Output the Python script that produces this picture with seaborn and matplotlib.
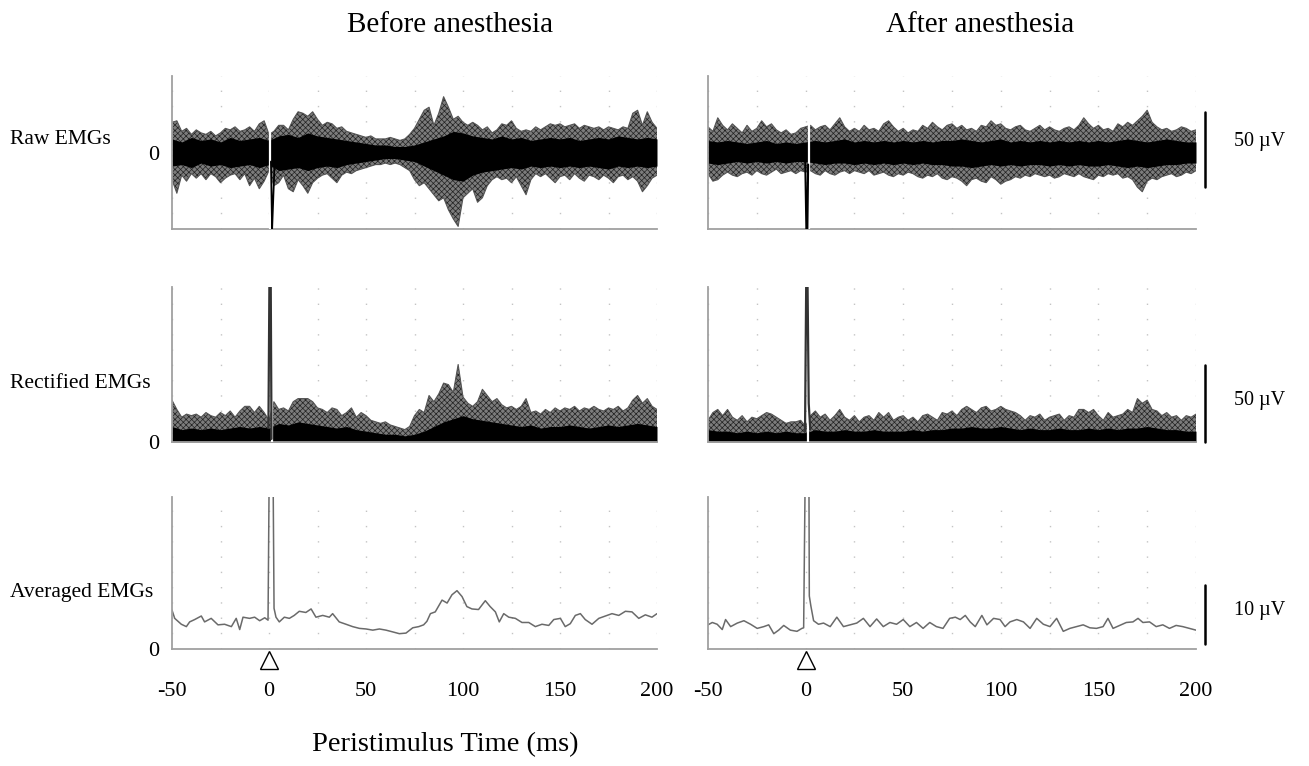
import numpy as np
import matplotlib
matplotlib.use("Agg")
import matplotlib.pyplot as plt
import matplotlib.transforms as mtransforms
from matplotlib.ticker import MultipleLocator, FixedLocator, FixedFormatter
import seaborn as sns

sns.set_theme(style="white")
plt.rcParams['font.family'] = ['Liberation Serif', 'DejaVu Serif']
plt.rcParams['axes.unicode_minus'] = False
plt.rcParams['text.color'] = 'black'
plt.rcParams['hatch.linewidth'] = 0.5

# ---------------- data ----------------
t_env = np.arange(-50, 200.1, 2.5)     # envelope sampling times (ms)
t_core = np.arange(-50, 200.1, 5)      # dense-core sampling times (ms)

# Raw EMGs, before anesthesia (uV): outer envelope and dense core
raw_before_hi = [20, 21, 14, 16, 12, 15, 13, 12, 14, 11,
                 13, 16, 15, 17, 14, 15, 17, 14, 19, 21,
                 12, 14, 18, 18, 15, 22, 27, 26, 24, 27,
                 22, 18, 20, 19, 16, 17, 14, 13, 12, 11,
                 10, 11, 9, 9, 9, 10, 9, 8, 9, 12,
                 16, 22, 28, 30, 18, 26, 37, 30, 22, 24,
                 20, 18, 20, 18, 15, 17, 13, 15, 19, 18,
                 21, 16, 14, 15, 14, 17, 15, 17, 19, 18,
                 19, 17, 18, 19, 16, 18, 17, 16, 17, 15,
                 17, 16, 15, 17, 16, 26, 28, 18, 27, 20,
                 16]
raw_before_lo = [-18, -27, -15, -19, -14, -17, -14, -18, -14, -16,
                 -20, -17, -15, -14, -18, -14, -22, -17, -24, -19,
                 -12, -22, -20, -15, -24, -26, -18, -22, -27, -20,
                 -17, -15, -14, -17, -20, -15, -13, -14, -12, -11,
                 -10, -9, -8, -8, -7, -8, -7, -8, -10, -12,
                 -18, -22, -20, -24, -28, -32, -30, -38, -44, -49,
                 -30, -27, -24, -33, -30, -22, -18, -16, -18, -17,
                 -20, -16, -22, -28, -18, -14, -16, -14, -17, -20,
                 -16, -15, -18, -14, -17, -19, -15, -16, -18, -15,
                 -17, -20, -16, -15, -18, -16, -19, -26, -22, -17,
                 -15]
raw_before_core_hi = [9, 7, 10, 8, 9, 7, 10, 8, 9, 10,
                      8, 11, 12, 10, 13, 11, 10, 9, 8, 7,
                      6, 5, 5, 4, 4, 5, 7, 9, 11, 14,
                      13, 11, 10, 9, 11, 9, 10, 8, 9, 10,
                      9, 10, 8, 9, 10, 9, 11, 10, 9, 10, 9]
raw_before_core_lo = [-9, -8, -10, -7, -9, -8, -10, -9, -8, -10,
                      -8, -12, -11, -10, -12, -10, -9, -10, -8, -7,
                      -6, -5, -4, -4, -5, -6, -9, -12, -15, -18,
                      -19, -15, -13, -12, -11, -10, -11, -9, -10, -9,
                      -10, -9, -10, -9, -10, -11, -9, -10, -9, -10, -9]

# Raw EMGs, after anesthesia (uV)
raw_after_hi = [17, 14, 23, 18, 15, 19, 16, 13, 18, 14,
                16, 21, 17, 19, 15, 13, 15, 12, 13, 16,
                17, 18, 15, 17, 18, 15, 19, 23, 17, 14,
                16, 14, 18, 15, 16, 14, 19, 21, 17, 14,
                16, 13, 15, 14, 18, 16, 20, 17, 15, 18,
                19, 16, 18, 15, 16, 14, 18, 17, 21, 18,
                19, 16, 15, 17, 18, 15, 14, 16, 18, 15,
                17, 15, 14, 16, 17, 15, 18, 23, 19, 16,
                18, 15, 16, 14, 19, 17, 20, 18, 21, 24,
                28, 20, 17, 15, 16, 14, 15, 17, 16, 14,
                15]
raw_after_lo = [-14, -19, -18, -15, -13, -15, -16, -14, -13, -15,
                -12, -14, -15, -13, -11, -14, -13, -12, -14, -12,
                -13, -12, -14, -15, -12, -14, -15, -13, -12, -14,
                -12, -13, -14, -12, -15, -14, -13, -15, -16, -14,
                -15, -13, -14, -16, -17, -15, -16, -14, -17, -18,
                -16, -17, -19, -22, -18, -17, -19, -20, -16, -18,
                -21, -19, -18, -16, -17, -15, -16, -14, -15, -16,
                -15, -17, -16, -14, -15, -16, -14, -16, -17, -18,
                -15, -16, -14, -15, -14, -17, -16, -18, -23, -26,
                -19, -17, -18, -16, -15, -14, -16, -15, -13, -14,
                -12]
raw_after_core_hi = [8, 7, 8, 7, 6, 7, 8, 6, 7, 6,
                     7, 8, 7, 8, 9, 7, 8, 7, 8, 7,
                     8, 7, 8, 7, 8, 8, 9, 8, 7, 8,
                     9, 7, 8, 7, 8, 7, 8, 7, 8, 7,
                     8, 7, 8, 9, 8, 7, 8, 9, 8, 7, 7]
raw_after_core_lo = [-7, -8, -7, -6, -7, -6, -7, -6, -7, -6,
                     -6, -7, -8, -7, -7, -8, -7, -8, -7, -8,
                     -7, -8, -7, -8, -8, -9, -9, -10, -9, -8,
                     -9, -8, -9, -8, -8, -9, -8, -9, -8, -9,
                     -9, -8, -9, -10, -9, -10, -9, -8, -8, -7, -7]

# Rectified EMGs (uV)
rect_before_hi = [27, 21, 16, 18, 17, 18, 16, 19, 17, 16,
                  19, 17, 20, 16, 20, 23, 23, 19, 23, 19,
                  14, 26, 21, 22, 20, 26, 28, 28, 28, 26,
                  22, 21, 19, 22, 21, 17, 19, 22, 16, 19,
                  17, 14, 13, 12, 13, 11, 10, 9, 8, 10,
                  17, 21, 19, 30, 26, 31, 38, 37, 32, 50,
                  29, 25, 23, 26, 34, 30, 26, 28, 24, 22,
                  23, 21, 23, 28, 19, 20, 18, 21, 19, 22,
                  20, 22, 21, 23, 20, 22, 21, 23, 21, 20,
                  22, 21, 23, 20, 22, 27, 30, 25, 28, 23,
                  21]
rect_before_core = [10, 8, 9, 8, 9, 8, 9, 10, 9, 10,
                    9, 12, 11, 13, 12, 11, 10, 9, 10, 8,
                    7, 6, 5, 5, 4, 5, 7, 10, 13, 15,
                    17, 15, 14, 13, 12, 11, 10, 11, 9, 10,
                    10, 11, 10, 9, 10, 11, 10, 11, 12, 11, 10]
rect_after_hi = [14, 19, 21, 17, 21, 16, 14, 17, 13, 16,
                 15, 17, 19, 18, 16, 14, 12, 13, 13, 14,
                 10, 17, 20, 16, 18, 14, 17, 21, 16, 14,
                 17, 13, 16, 17, 14, 19, 16, 19, 14, 16,
                 17, 14, 16, 13, 17, 18, 16, 14, 19, 18,
                 20, 17, 21, 23, 21, 19, 22, 23, 20, 21,
                 23, 21, 20, 19, 17, 14, 17, 16, 18, 14,
                 16, 17, 18, 14, 17, 16, 21, 21, 19, 21,
                 17, 14, 19, 16, 17, 18, 21, 19, 28, 25,
                 27, 21, 20, 17, 19, 16, 17, 14, 17, 16,
                 18]
rect_after_core = [8, 7, 7, 6, 7, 6, 7, 6, 7, 6,
                   6, 8, 7, 7, 8, 7, 7, 8, 7, 7,
                   7, 8, 7, 8, 8, 9, 9, 10, 9, 9,
                   10, 9, 8, 9, 8, 8, 9, 8, 8, 9,
                   8, 9, 8, 9, 9, 10, 9, 8, 8, 7, 7]

# Stimulus artefacts (ms, uV)
raw_before_art_t = [1.0, 1.6, 2.2, 2.8]
raw_before_art_v = [-6, -51, -30, -10]
raw_after_art_t = [-0.2, 0.4, 0.9, 1.3]
raw_after_art_v = [-4, -51, -51, -8]
rect_before_art_t = [-0.3, 0.2, 0.9, 1.3]
rect_before_art_v = [9, 101, 101, 2]
rect_after_art_t = [-0.3, 0.3, 1.0, 1.6, 2.4]
rect_after_art_v = [7, 101, 101, 25, 8]
blank_raw_before, blank_raw_after = 0.6, 1.6
blank_rect_before, blank_rect_after = 1.6, 1.4

# Averaged EMGs (uV)
avg_before_t = [-50.0, -48.6, -45.2, -42.6, -40.9, -38.3, -34.9, -33.2, -29.8, -26.3,
                -22.9, -19.4, -16.9, -15.1, -13.4, -10.0, -7.4, -4.8, -2.2, -0.5,
                0.1, 2.1, 2.6, 3.6, 5.3, 7.9, 10.5, 13.0, 15.6, 19.0,
                21.7, 24.2, 27.7, 31.1, 32.8, 36.2, 39.7, 43.1, 46.6, 50.0,
                53.5, 56.9, 60.3, 63.8, 67.2, 70.6, 74.1, 77.2, 79.7, 81.4,
                83.2, 85.7, 89.2, 91.8, 94.3, 96.9, 99.5, 102.0, 104.6, 108.0,
                111.5, 114.0, 116.7, 118.7, 121.0, 123.6, 127.0, 130.4, 133.9, 137.3,
                140.7, 144.2, 146.8, 150.2, 152.7, 155.3, 157.9, 160.5, 163.0, 166.5,
                170.0, 173.4, 176.8, 180.3, 183.7, 187.1, 190.6, 194.0, 197.4, 200.0]
avg_before_v = [6.6, 5.2, 4.2, 3.8, 4.6, 5.0, 5.6, 4.6, 5.2, 4.1,
                4.2, 3.8, 5.2, 3.3, 5.4, 5.2, 5.4, 4.8, 5.3, 4.9,
                30, 30, 6.9, 5.4, 4.6, 5.4, 5.2, 5.7, 6.4, 6.2,
                6.8, 5.4, 5.7, 5.4, 6.0, 4.6, 4.2, 3.8, 3.5, 3.4,
                3.2, 3.4, 3.2, 2.9, 2.6, 2.7, 3.6, 3.8, 4.1, 4.7,
                6.0, 6.3, 8.3, 7.8, 9.2, 9.9, 8.9, 7.2, 6.8, 6.7,
                8.2, 7.2, 6.3, 4.6, 6.0, 5.4, 5.2, 4.5, 4.5, 3.8,
                4.2, 4.0, 5.0, 5.2, 3.8, 4.3, 5.7, 6.0, 5.0, 4.2,
                5.2, 5.6, 6.0, 5.7, 6.4, 6.3, 5.2, 5.8, 5.4, 6.0]
avg_after_t = [-50.0, -47.8, -45.3, -42.7, -41.0, -38.4, -35.0, -31.6, -28.2, -24.8,
               -21.4, -18.9, -16.3, -13.8, -11.2, -7.8, -4.4, -1.9, -1.0, -0.2,
               1.7, 1.9, 2.7, 4.1, 6.6, 9.2, 12.6, 16.0, 19.4, 22.8,
               26.2, 29.6, 33.0, 36.4, 39.8, 43.2, 46.6, 50.0, 53.4, 56.8,
               60.2, 63.6, 67.0, 70.4, 73.8, 76.7, 79.2, 81.8, 84.3, 86.9,
               90.3, 92.9, 96.3, 99.6, 102.2, 104.7, 108.2, 111.6, 115.0, 118.4,
               121.8, 125.2, 128.6, 132.0, 135.4, 138.8, 142.2, 145.6, 149.0, 152.4,
               154.9, 157.5, 160.9, 164.3, 167.7, 170.3, 172.8, 176.2, 179.6, 183.0,
               186.4, 189.8, 193.2, 196.6, 200.0]
avg_after_v = [4.1, 4.5, 4.2, 3.3, 5.0, 3.8, 4.4, 4.8, 4.2, 3.5,
               3.8, 4.1, 2.6, 3.2, 4.0, 3.2, 3.0, 3.5, 3.6, 30,
               30, 9.0, 7.3, 4.8, 4.2, 4.4, 3.8, 5.4, 3.8, 4.1,
               4.4, 5.2, 3.8, 5.1, 3.8, 4.5, 4.2, 5.0, 3.8, 4.5,
               3.5, 4.5, 3.8, 3.5, 5.2, 5.4, 5.0, 5.7, 4.6, 3.8,
               5.7, 4.1, 5.2, 5.0, 3.8, 4.6, 5.0, 4.6, 3.5, 5.2,
               4.2, 3.8, 5.2, 3.0, 3.5, 3.8, 4.1, 3.6, 3.5, 3.8,
               5.2, 3.5, 4.0, 4.5, 4.6, 5.2, 4.5, 4.6, 3.8, 4.1,
               3.5, 4.0, 3.8, 3.5, 3.2]

xtick_vals = [-50, 0, 50, 100, 150, 200]
xtick_labels = ["-50", "0", "50", "100", "150", "200"]
stim_time = 0
row_labels = ["Raw EMGs", "Rectified EMGs", "Averaged EMGs"]
col_titles = ["Before anesthesia", "After anesthesia"]
scale_bars = [(-23, 27, "50 \u00b5V", 7), (0, 50, "50 \u00b5V", 27), (0.85, 10.85, "10 \u00b5V", 6.6)]

# ---------------- figure ----------------
W, H = 1309, 766
fig = plt.figure(figsize=(W / 100, H / 100), dpi=100)


def add_ax(x0, y0, x1, y1):
    return fig.add_axes([x0 / W, 1 - y1 / H, (x1 - x0) / W, (y1 - y0) / H])


cols = [(172, 657), (708, 1196)]
rows = [(76, 229), (287, 442), (497, 649)]
axes = [[add_ax(c[0], r[0], c[1], r[1]) for c in cols] for r in rows]

SPINE = '#a0a0a0'
ylims = [(-50.7, 50.7), (0, 100), (0, 25.8)]
ysteps = [10, 10, 2.58]

for ri in range(3):
    for ci in range(2):
        ax = axes[ri][ci]
        ax.set_xlim(-50, 200)
        ax.set_ylim(*ylims[ri])
        for s in ['top', 'right']:
            ax.spines[s].set_visible(False)
        for s in ['left', 'bottom']:
            ax.spines[s].set_color(SPINE)
            ax.spines[s].set_linewidth(1.3)
        ax.xaxis.set_major_locator(FixedLocator(xtick_vals))
        ax.xaxis.set_minor_locator(MultipleLocator(25))
        ax.yaxis.set_major_locator(FixedLocator([0]))
        ax.yaxis.set_minor_locator(MultipleLocator(ysteps[ri]))
        ax.tick_params(axis='both', which='both', direction='out', length=3, width=0.8,
                       color=SPINE, labelsize=16, labelcolor='black')
        ax.tick_params(axis='y', pad=6)
        ax.tick_params(axis='x', pad=21)
        if ri == 2:
            ax.set_xticklabels(xtick_labels)
        else:
            ax.set_xticklabels([])
        if ci == 0:
            ax.yaxis.set_major_formatter(FixedFormatter(["0"]))
        else:
            ax.set_yticklabels([])
        ax.grid(True, axis='x', which='both', color='#c4c4c4', lw=1.0, linestyle=(0, (1, 10)))
        ax.set_axisbelow(True)
        ax.set_facecolor('white')

FRINGE = '#7c7c7c'
HATCH = '#222222'
EDGE = '#555555'


def bundle(ax, lo, hi, core_lo, core_hi, two_sided=True):
    ax.fill_between(t_env, lo, hi, facecolor=FRINGE, edgecolor=HATCH, hatch='xxxxxx',
                    lw=0, zorder=1)
    ax.fill_between(t_core, core_lo, core_hi, color='black', lw=0, zorder=1.5)
    sns.lineplot(x=t_env, y=hi, ax=ax, color=EDGE, lw=0.8, legend=False, zorder=2)
    if two_sided:
        sns.lineplot(x=t_env, y=lo, ax=ax, color=EDGE, lw=0.8, legend=False, zorder=2)


# Raw
bundle(axes[0][0], raw_before_lo, raw_before_hi, raw_before_core_lo, raw_before_core_hi)
axes[0][0].axvline(blank_raw_before, color='white', lw=1.6, zorder=3)
sns.lineplot(x=raw_before_art_t, y=raw_before_art_v, ax=axes[0][0], color='black', lw=1.3,
             legend=False, zorder=4, sort=False)
bundle(axes[0][1], raw_after_lo, raw_after_hi, raw_after_core_lo, raw_after_core_hi)
axes[0][1].axvline(blank_raw_after, color='white', lw=1.6, zorder=3)
sns.lineplot(x=raw_after_art_t, y=raw_after_art_v, ax=axes[0][1], color='black', lw=1.5,
             legend=False, zorder=4, sort=False)

# Rectified
bundle(axes[1][0], 0, rect_before_hi, 0, rect_before_core, two_sided=False)
axes[1][0].axvline(blank_rect_before, color='white', lw=1.6, zorder=3)
sns.lineplot(x=rect_before_art_t, y=rect_before_art_v, ax=axes[1][0], color='#333333', lw=1.6,
             legend=False, zorder=4, sort=False)
bundle(axes[1][1], 0, rect_after_hi, 0, rect_after_core, two_sided=False)
axes[1][1].axvline(blank_rect_after, color='white', lw=1.6, zorder=3)
sns.lineplot(x=rect_after_art_t, y=rect_after_art_v, ax=axes[1][1], color='#333333', lw=1.6,
             legend=False, zorder=4, sort=False)

# Averaged
sns.lineplot(x=avg_before_t, y=avg_before_v, ax=axes[2][0], color='#6a6a6a', lw=1.1,
             legend=False, sort=False)
sns.lineplot(x=avg_after_t, y=avg_after_v, ax=axes[2][1], color='#6a6a6a', lw=1.1,
             legend=False, sort=False)

for ax in axes[2]:
    tr = mtransforms.blended_transform_factory(ax.transData, ax.transAxes)
    ax.plot([stim_time], [-0.075], marker='^', ms=13, mfc='white', mec='black', mew=1.0,
            transform=tr, clip_on=False, zorder=5)

for ax in sum(axes, []):
    ax.set_xlabel('')
    ax.set_ylabel('')

# Scale bars (right column)
for ri, (b0, b1, lab, ly) in enumerate(scale_bars):
    ax = axes[ri][1]
    tr = mtransforms.blended_transform_factory(ax.transAxes, ax.transData)
    ax.plot([1.018, 1.018], [b0, b1], color='black', lw=1.8, transform=tr, clip_on=False)
    ax.text(1.078, ly, lab, transform=tr, ha='left', va='center', fontsize=14.5, color='black')

# Titles and labels
for x, title in zip([450, 980], col_titles):
    fig.text(x / W, 1 - 25 / H, title, ha='center', va='center', fontsize=21, color='black')
for y, lab in zip([140, 383, 593], row_labels):
    fig.text(10 / W, 1 - y / H, lab, ha='left', va='center', fontsize=15.5, color='black')
fig.text(445 / W, 1 - 745 / H, "Peristimulus Time (ms)", ha='center', va='center',
         fontsize=20.5, color='black')

fig.savefig("out.png", dpi=100)
